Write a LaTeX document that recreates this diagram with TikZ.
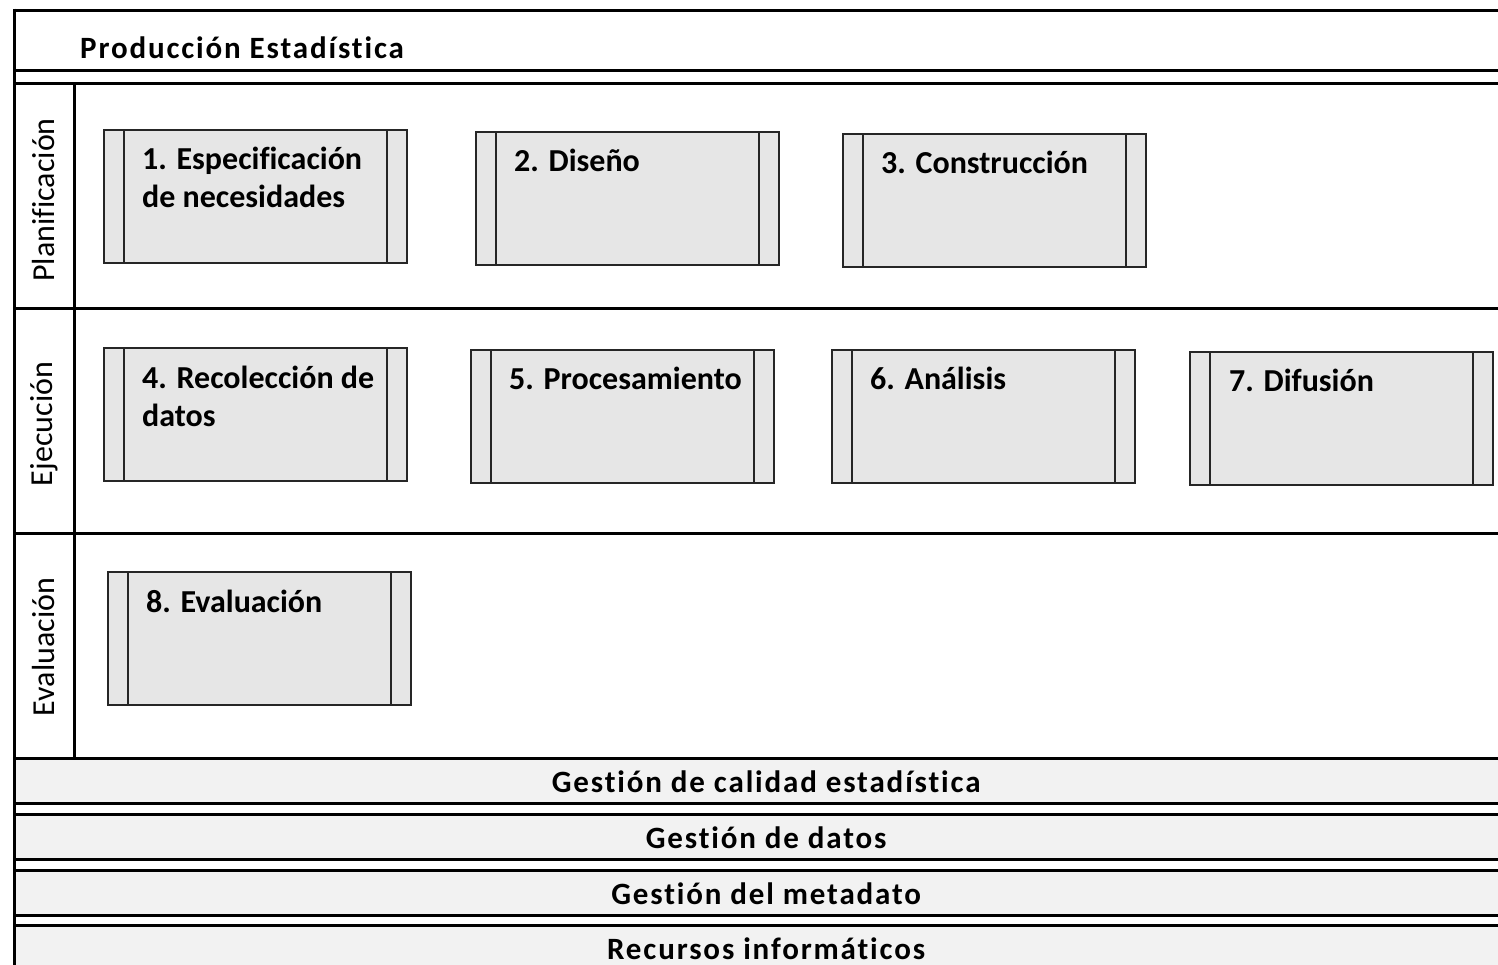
\documentclass[tikz,border=0pt]{standalone}
\usepackage{fontspec}
\setmainfont[Ligatures=NoCommon]{Carlito}
\usetikzlibrary{positioning}
\definecolor{boxgray}{HTML}{E6E6E6}
\definecolor{bandgray}{HTML}{F2F2F2}

\begin{document}
\begin{tikzpicture}[x=1pt, y=-1pt,
		frame/.style={line width=3pt, black},
		proc/.style={
			rectangle,
			draw=black!85,
			line width=1.6pt,
			fill=boxgray,
			anchor=north west,
			inner sep=0pt,
			minimum width=303pt,
			minimum height=133pt,
			path picture={
				\draw[black!85, line width=1.6pt]
					([xshift=20pt]path picture bounding box.north west) -- ([xshift=20pt]path picture bounding box.south west)
					([xshift=-20pt]path picture bounding box.north east) -- ([xshift=-20pt]path picture bounding box.south east);
			}
		},
		proctext/.style={anchor=base west, align=left, inner sep=0pt, font=\fontsize{32}{38}\selectfont\bfseries},
		lanelabel/.style={rotate=90, inner sep=0pt, font=\fontsize{32}{38}\selectfont},
		band/.style={
			rectangle,
			fill=bandgray,
			anchor=north west,
			inner sep=0pt,
			minimum width=1504pt,
			minimum height=45pt,
			text height=24pt,
			text depth=0pt,
			font=\fontsize{31}{36}\selectfont\bfseries\addfontfeature{LetterSpace=6}
		}
	]
		\useasboundingbox (0,0) rectangle (1498,964);
		
		% support bands
		\node[band] (Q) at (14,758) {Gestión de calidad estadística};
		\node[band] (D) at (14,814) {Gestión de datos};
		\node[band] (M) at (14,870) {Gestión del metadato};
		\node[band] (R) at (14,925) {Recursos informáticos};
		\draw[frame] (Q.south west) -- (Q.south east);
		\draw[frame] (D.north west) -- (D.north east);
		\draw[frame] (D.south west) -- (D.south east);
		\draw[frame] (M.north west) -- (M.north east);
		\draw[frame] (M.south west) -- (M.south east);
		\draw[frame] (R.north west) -- (R.north east);
		
		% frame and lanes
		\draw[frame] (14,10) -- (1520,10);
		\draw[frame] (14,70) -- (1520,70);
		\draw[frame] (14,83) -- (1520,83);
		\draw[frame] (14,308) -- (1520,308);
		\draw[frame] (14,533) -- (1520,533);
		\draw[frame] (14,758) -- (1520,758);
		\draw[frame] (74,83) -- (74,758);
		\draw[frame] (14,8.5) -- (14,970);
		
		\node[anchor=base west, inner sep=0pt, font=\fontsize{31}{36}\selectfont\bfseries\addfontfeature{LetterSpace=6}] (title) at (80,58) {Producción Estadística};
		
		\node[lanelabel] (plan) at (44,200) {Planificación};
		\node[lanelabel] (ejec) at (44,424) {Ejecución};
		\node[lanelabel] (eval) at (44,647) {Evaluación};
		
		% processes
		\node[proc] (P1) at (103,129) {};
		\node[proc] (P2) at (475,131) {};
		\node[proc] (P3) at (842,133) {};
		\node[proc] (P4) at (103,347) {};
		\node[proc] (P5) at (470,349) {};
		\node[proc] (P6) at (831,349) {};
		\node[proc] (P7) at (1189,351) {};
		\node[proc] (P8) at (107,571) {};
		
		\node[proctext] (T1) at ([xshift=39pt, yshift=-78pt] P1.north west) {1. Especificación\\de necesidades};
		\node[proctext] (T2) at ([xshift=39pt, yshift=-40pt] P2.north west) {2. Diseño};
		\node[proctext] (T3) at ([xshift=39pt, yshift=-40pt] P3.north west) {3. Construcción};
		\node[proctext] (T4) at ([xshift=39pt, yshift=-79pt] P4.north west) {4. Recolección de\\datos};
		\node[proctext] (T5) at ([xshift=39pt, yshift=-40pt] P5.north west) {5. Procesamiento};
		\node[proctext] (T6) at ([xshift=39pt, yshift=-40pt] P6.north west) {6. Análisis};
		\node[proctext] (T7) at ([xshift=40pt, yshift=-40pt] P7.north west) {7. Difusión};
		\node[proctext] (T8) at ([xshift=39pt, yshift=-41pt] P8.north west) {8. Evaluación};
	\end{tikzpicture}
\end{document}
